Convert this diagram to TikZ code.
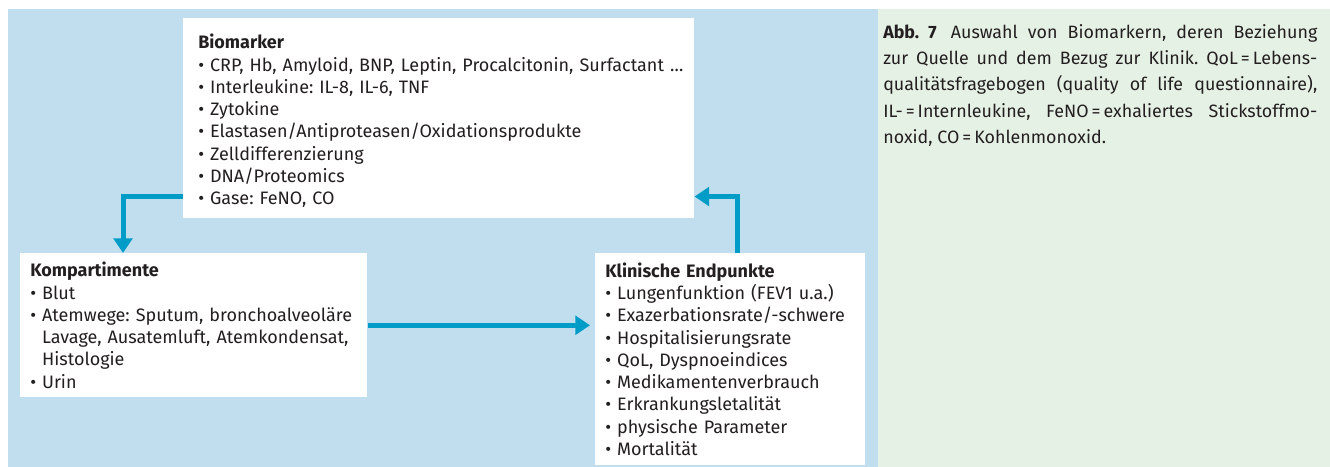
\documentclass[tikz,border=0pt]{standalone}
\usepackage{fontspec}
\setmainfont{Fira Sans}
\usepackage{tikz}
\usetikzlibrary{arrows.meta,calc}
\definecolor{panelblue}{RGB}{192,222,238}
\definecolor{panelgreen}{RGB}{230,241,229}
\definecolor{flowblue}{RGB}{0,156,200}
\definecolor{inkgray}{RGB}{35,31,32}
\newcommand{\bul}[1]{\mbox{\textbullet\ #1}}
\newcommand{\hng}[1]{\mbox{\phantom{\textbullet\ }#1}}
\newcommand{\jline}[1]{\makebox[325.5pt][s]{#1}}
\frenchspacing

\begin{document}
\begin{tikzpicture}[
      x=0.75pt, y=-0.75pt,
      every node/.style={text=inkgray},
      infobox/.style={rectangle, fill=white, anchor=north west, align=left,
                      inner ysep=0pt, font=\fontsize{13.5}{16.7}\selectfont},
      flow/.style={draw=flowblue, line width=3.75pt,
                   -{Triangle[length=11pt, width=14pt]}},
    ]
    \useasboundingbox (0,0) rectangle (1330,467);
    % panels: diagram (blue) and caption (green)
    \fill[panelblue]  (8,9)   rectangle (878,467);
    \fill[panelgreen] (878,9) rectangle (1330,467);

    % the three boxes
    \node[infobox, inner xsep=11.25pt, text width=360.75pt,
          minimum width=383.25pt, minimum height=150pt] (bio) at (183,18)
      {\rule{0pt}{15pt}\textbf{Biomarker}\\
       \bul{CRP, Hb, Amyloid, BNP, Leptin, Procalcitonin, Surfactant \dots}\\
       \bul{Interleukine: IL-8, IL-6, TNF}\\
       \bul{Zytokine}\\
       \bul{Elastasen/Antiproteasen/Oxidationsprodukte}\\
       \bul{Zelldifferenzierung}\\
       \bul{DNA/Proteomics}\\
       \bul{Gase: FeNO, CO}};
    \node[infobox, inner xsep=7.5pt, text width=245.25pt,
          minimum width=260.25pt, minimum height=108pt] (komp) at (20,253)
      {\textbf{Kompartimente}\\
       \bul{Blut}\\
       \bul{Atemwege: Sputum, bronchoalveoläre}\\
       \hng{Lavage, Ausatemluft, Atemkondensat,}\\
       \hng{Histologie}\\
       \bul{Urin}};
    \node[infobox, inner xsep=7.5pt, text width=187.5pt,
          minimum width=202.5pt, minimum height=159pt] (klin) at (595,253)
      {\textbf{Klinische Endpunkte}\\
       \bul{Lungenfunktion (FEV1 u.a.)}\\
       \bul{Exazerbationsrate/-schwere}\\
       \bul{Hospitalisierungsrate}\\
       \bul{QoL, Dyspnoeindices}\\
       \bul{Medikamentenverbrauch}\\
       \bul{Erkrankungsletalität}\\
       \bul{physische Parameter}\\
       \bul{Mortalität}};

    % caption
    \node[anchor=north west, inner sep=0pt, align=left,
          font=\fontsize{13.4}{19.7}\selectfont] (caption) at (883,24)
      {\jline{\textbf{Abb.~7}\hspace{0.8em}Auswahl von Biomarkern, deren Beziehung}\\
       \jline{zur Quelle und dem Bezug zur Klinik. QoL\,=\,Lebens-}\\
       \jline{qualitätsfragebogen (quality of life questionnaire),}\\
       \jline{IL-\,=\,Internleukine, FeNO\,=\,exhaliertes Stickstoffmo-}\\
       noxid, CO\,=\,Kohlenmonoxid.};

    % connectors
    \draw[flow] ([yshift=16.5pt]bio.south west) -| ([xshift=77.25pt]komp.north west);
    \draw[flow] (komp.east) -- ([xshift=-3.75pt]komp.east -| klin.west);
    \draw[flow] ([xshift=5.25pt]klin.north) |- ([yshift=16.5pt]bio.south east);
  \end{tikzpicture}
\end{document}
